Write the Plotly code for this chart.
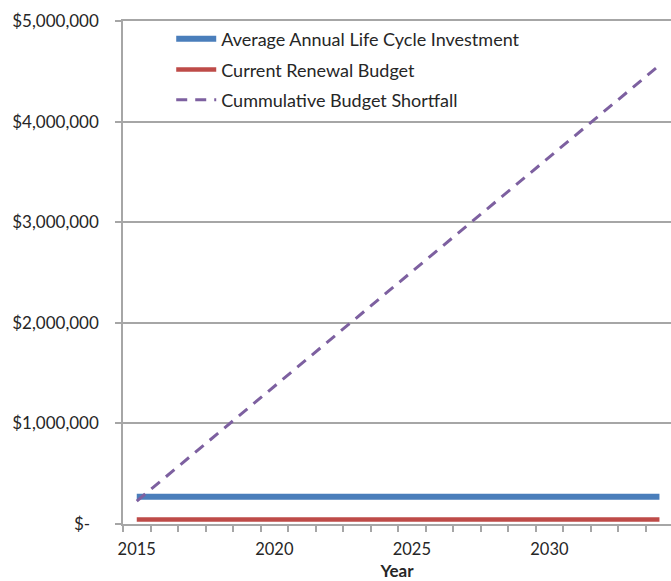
import plotly.graph_objects as go

years = list(range(2015, 2035))
life_cycle = [272000] * 20
renewal = [44000] * 20
shortfall = [228000, 456000, 684000, 912000, 1140000, 1368000, 1596000, 1824000,
             2052000, 2280000, 2508000, 2736000, 2964000, 3192000, 3420000, 3648000,
             3876000, 4104000, 4332000, 4560000]
ytick_vals = [0, 1000000, 2000000, 3000000, 4000000, 5000000]
ytick_text = ["$-\u00a0\u00a0", "$1,000,000", "$2,000,000", "$3,000,000", "$4,000,000", "$5,000,000"]
xtick_vals = [2015, 2020, 2025, 2030]

font_family = "Lato, 'Open Sans', sans-serif"
grid = "#A6A6A6"
txt = "#262626"

fig = go.Figure()
fig.add_trace(go.Scatter(x=years, y=life_cycle, mode="lines",
                         name="Average Annual Life Cycle Investment", legend="legend",
                         line=dict(color="#4A7EBB", width=6)))
fig.add_trace(go.Scatter(x=years, y=renewal, mode="lines",
                         name="Current Renewal Budget", legend="legend2",
                         line=dict(color="#BE4B48", width=4.5)))
fig.add_trace(go.Scatter(x=years, y=shortfall, mode="lines",
                         name="Cummulative Budget Shortfall", legend="legend3",
                         line=dict(color="#7D60A0", width=3, dash="11px,8px")))

leg_common = dict(x=0.088, xanchor="left", yanchor="middle",
                  bgcolor="rgba(0,0,0,0)", font=dict(size=18, color=txt),
                  itemwidth=40)

fig.update_layout(
    width=671, height=581,
    margin=dict(l=123, r=0, t=21, b=57),
    paper_bgcolor="white", plot_bgcolor="white",
    font=dict(family=font_family, size=16, color=txt),
    showlegend=True,
    legend=dict(y=0.964, **leg_common),
    legend2=dict(y=0.903, **leg_common),
    legend3=dict(y=0.843, **leg_common),
    xaxis=dict(range=[2014.5, 2034.42], tickmode="array", tickvals=xtick_vals,
               showgrid=False, showline=True, mirror=True, linecolor=grid, linewidth=1.5,
               ticks="", zeroline=False, ticklabelstandoff=9,
               minor=dict(ticks="outside", tick0=2014.5, dtick=1, ticklen=6,
                          tickcolor=grid, tickwidth=1.5, showgrid=False),
               tickfont=dict(size=16.5, color=txt),
               title=dict(text="<b>Year</b>", font=dict(size=17, color=txt), standoff=8)),
    yaxis=dict(range=[0, 5000000], tickmode="array", tickvals=ytick_vals,
               ticktext=ytick_text, showgrid=True, gridcolor=grid, gridwidth=1.5,
               showline=True, linecolor=grid, linewidth=1.5,
               ticks="outside", ticklen=6, tickcolor=grid, tickwidth=1.5,
               zeroline=False, ticklabelstandoff=13,
               tickfont=dict(size=17, color=txt)),
)

fig.write_html("out.html")
